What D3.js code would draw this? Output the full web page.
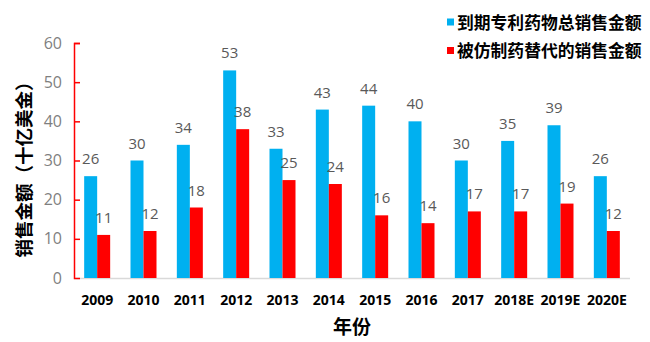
<!DOCTYPE html>
<html><head><meta charset="utf-8">
<script src="https://cdn.jsdelivr.net/npm/d3@7"></script>
<style>body{margin:0;background:#fff}svg{display:block}</style>
</head><body>
<script>
const categories = ["2009","2010","2011","2012","2013","2014","2015","2016","2017","2018E","2019E","2020E"];
const totalSales = [26,30,34,53,33,43,44,40,30,35,39,26];
const genericSales = [11,12,18,38,25,24,16,14,17,17,19,12];
const seriesNames = ["到期专利药物总销售金额","被仿制药替代的销售金额"];
const yTicks = [0,10,20,30,40,50,60];
const colors = ["#00B0F0","#FF0000"];

const W=650,H=342;
const m={left:74,right:20,top:43,bottom:64};
const svg=d3.select("body").append("svg").attr("width",W).attr("height",H);
const x=d3.scaleBand().domain(categories).range([m.left,630]).paddingInner(0).paddingOuter(0);
const y=d3.scaleLinear().domain([0,60]).range([278,43]);
const bw=13;

// x baseline
svg.append("line").attr("x1",m.left).attr("x2",630).attr("y1",y(0)+0.5).attr("y2",y(0)+0.5).attr("stroke","#D9D9D9").attr("stroke-width",1.5);

// y axis
const ya=svg.append("g").attr("transform",`translate(${m.left},0)`).attr("color","#7F7F7F")
  .call(d3.axisLeft(y).tickValues(yTicks).tickSize(-6).tickPadding(12));
ya.select(".domain").attr("stroke","#FF0000").attr("stroke-width",1.5);
ya.selectAll(".tick line").attr("stroke","#FF0000").attr("stroke-width",1.5);
ya.selectAll(".tick").filter(d=>d===0).select("line").remove();
ya.selectAll("text").attr("fill","#7F7F7F").attr("font-size",16).attr("font-family","'Open Sans',sans-serif");

const series=[totalSales,genericSales];
series.forEach((vals,si)=>{
  const g=svg.append("g");
  g.selectAll("rect").data(vals).enter().append("rect")
    .attr("x",(d,i)=>x(categories[i])+x.bandwidth()/2-bw+si*bw)
    .attr("width",bw)
    .attr("y",d=>y(d)).attr("height",d=>y(0)-y(d)).attr("fill",colors[si]);
  g.selectAll("text").data(vals).enter().append("text")
    .attr("x",(d,i)=>x(categories[i])+x.bandwidth()/2-bw/2+si*bw)
    .attr("y",d=>y(d)-12)
    .attr("text-anchor","middle").attr("fill","#595959").attr("font-size",15)
    .attr("font-family","'Open Sans',sans-serif").text(d=>d);
});

// x tick labels
svg.append("g").selectAll("text").data(categories).enter().append("text")
  .attr("x",d=>x(d)+x.bandwidth()/2).attr("y",305)
  .attr("text-anchor","middle").attr("font-weight","bold").attr("font-size",14)
  .attr("font-family","'Open Sans',sans-serif").attr("fill","#000").text(d=>d);

// axis titles
svg.append("text").attr("x",352).attr("y",334).attr("text-anchor","middle")
  .attr("font-family","'Noto Sans CJK SC',sans-serif").attr("font-weight","bold").attr("font-size",19).text("年份");
svg.append("text").attr("transform","translate(31,165) rotate(-90)").attr("text-anchor","middle")
  .attr("font-family","'Noto Sans CJK SC',sans-serif").attr("font-weight","bold").attr("font-size",18.5).text("销售金额（十亿美金）");

// legend
const lg=svg.append("g");
seriesNames.forEach((n,i)=>{
  const cy=22+i*28.5;
  lg.append("rect").attr("x",447).attr("y",cy-3.5).attr("width",7).attr("height",7).attr("fill",colors[i]);
  lg.append("text").attr("x",457).attr("y",cy+6.5).attr("font-family","'Noto Sans CJK SC',sans-serif")
    .attr("font-weight","bold").attr("font-size",16.8).attr("fill","#000").text(n);
});
</script>
</body></html>
